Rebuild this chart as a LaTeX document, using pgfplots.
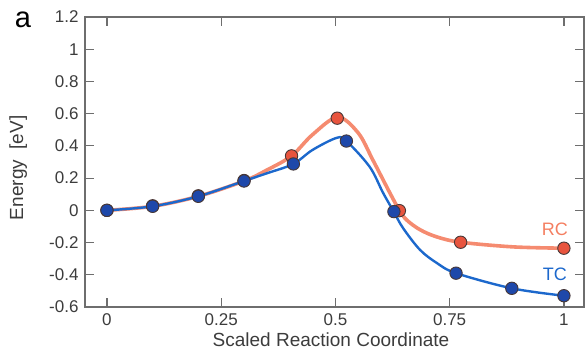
\documentclass[border=0pt]{standalone}
\usepackage{fontspec}
\setmainfont{Liberation Sans}
\usepackage{pgfplots}
\pgfplotsset{compat=1.18}
\definecolor{rccol}{RGB}{244,126,96}
\definecolor{rcmark}{RGB}{232,84,62}
\definecolor{tccol}{RGB}{28,104,204}
\definecolor{tcmark}{RGB}{30,72,170}
\definecolor{edgecol}{RGB}{70,55,55}
\definecolor{axcol}{RGB}{110,110,110}
\definecolor{txtcol}{RGB}{60,60,60}
\begin{document}
\begin{tikzpicture}
\useasboundingbox (0,0) rectangle (588pt,356pt);
\begin{axis}[
  at={(85pt,49pt)}, anchor=south west,
  scale only axis, width=499pt, height=290pt,
  xmin=-0.048, xmax=1.044, ymin=-0.6, ymax=1.2,
  xtick={0,0.25,0.5,0.75,1},
  xticklabels={0,0.25,0.5,0.75,1},
  ytick={-0.6,-0.4,-0.2,0,0.2,0.4,0.6,0.8,1,1.2},
  yticklabels={-0.6,-0.4,-0.2,0,0.2,0.4,0.6,0.8,1,1.2},
  tick align=inside, major tick length=9pt,
  tick style={axcol, line width=1.2pt},
  axis line style={axcol, line width=1.3pt},
  ticklabel style={font=\fontsize{17}{20}\selectfont, text=txtcol},
  xticklabel style={yshift=-3pt},
  yticklabel style={xshift=-3pt},
  xlabel={Scaled Reaction Coordinate},
  ylabel={Energy\ \ [eV]},
  label style={font=\fontsize{19}{22}\selectfont, text=txtcol},
  xlabel style={at={(axis description cs:0.493,-0.114)}, anchor=center},
  ylabel style={at={(axis description cs:-0.134,0.48)}, anchor=center},
  /pgf/number format/assume math mode=true,
  clip=false,
]
% RC curve
\addplot[rccol, line width=3.6pt, smooth, tension=0.55, opacity=0.9] coordinates {
(0,0) (0.1,0.025) (0.2,0.087) (0.3,0.182) (0.35,0.25) (0.404,0.338) (0.45,0.47)
(0.505,0.578) (0.55,0.48) (0.582,0.312) (0.619,0.109) (0.64,0.0) (0.656,-0.06)
(0.685,-0.12) (0.722,-0.165) (0.774,-0.198) (0.89,-0.227) (1.0,-0.235)};
% TC curve
\addplot[tccol, line width=2.4pt, smooth, tension=0.55] coordinates {
(0,0) (0.1,0.025) (0.2,0.087) (0.3,0.182) (0.35,0.23) (0.408,0.288) (0.45,0.375)
(0.503,0.45) (0.524,0.43) (0.575,0.27) (0.604,0.11) (0.628,-0.01) (0.648,-0.11)
(0.685,-0.245) (0.722,-0.327) (0.764,-0.39) (0.886,-0.484) (1.0,-0.53)};
% RC points
\addplot[only marks, mark=*, mark size=6.2pt, mark options={fill=rcmark, draw=edgecol, line width=0.9pt}] coordinates {
(0,0) (0.1,0.028) (0.2,0.09) (0.3,0.185) (0.404,0.338) (0.504,0.572) (0.64,-0.002) (0.774,-0.198) (1.0,-0.235)};
% TC points
\addplot[only marks, mark=*, mark size=6.2pt, mark options={fill=tcmark, draw=edgecol, line width=0.9pt}] coordinates {
(0,0) (0.1,0.025) (0.2,0.087) (0.3,0.182) (0.408,0.288) (0.524,0.43) (0.628,-0.008) (0.764,-0.39) (0.886,-0.484) (1.0,-0.53)};
\node[font=\fontsize{18}{20}\selectfont, text=rccol] at (axis cs:0.98,-0.115) {RC};
\node[font=\fontsize{18}{20}\selectfont, text=tccol] at (axis cs:0.98,-0.40) {TC};
\end{axis}
\node[font=\fontsize{29}{30}\selectfont] at (23pt,336pt) {a};
\end{tikzpicture}
\end{document}
